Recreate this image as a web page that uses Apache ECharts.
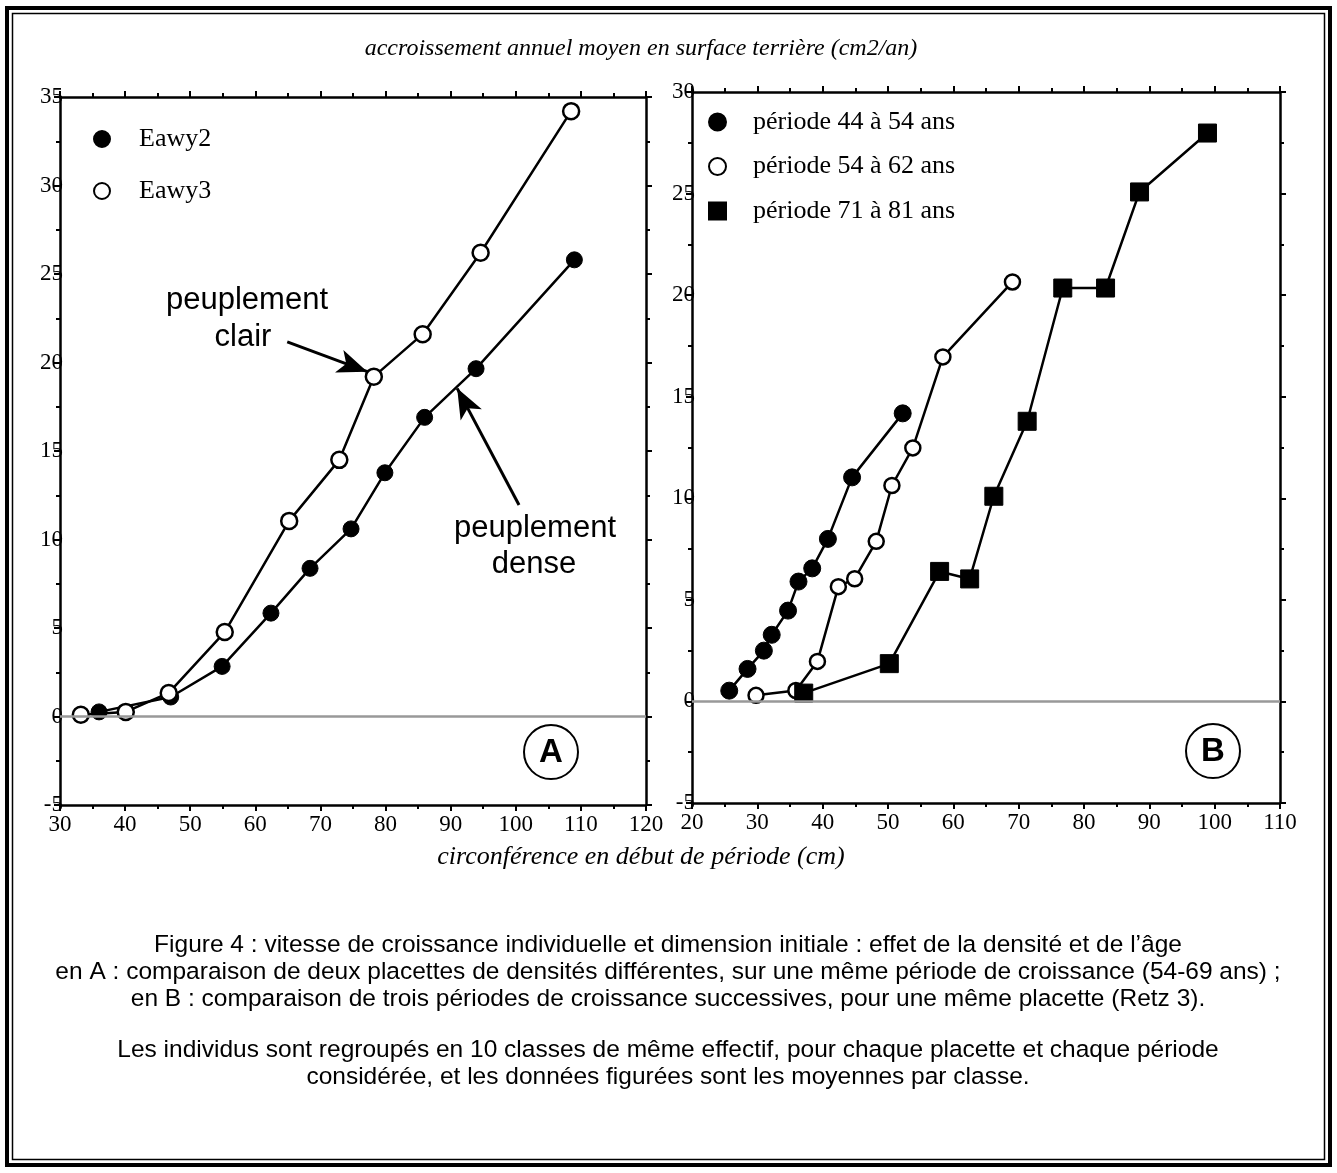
<!DOCTYPE html>
<html><head><meta charset="utf-8">
<script src="https://cdn.jsdelivr.net/npm/echarts@6/dist/echarts.min.js"></script>
<style>html,body{margin:0;padding:0;background:#fff}#c{width:1337px;height:1173px}</style>
</head><body><div id="c"></div>
<script>
// Panel A: circonférence (cm) vs accroissement (cm2/an)
const eawy2X = [36.0, 47.0, 54.9, 62.4, 68.4, 74.7, 79.9, 86.0, 93.9, 109.0];
const eawy2Y = [0.26, 1.1, 2.83, 5.84, 8.37, 10.6, 13.77, 16.9, 19.65, 25.8];
const eawy3X = [33.2, 40.1, 46.7, 55.3, 65.2, 72.9, 78.2, 85.7, 94.6, 108.5];
const eawy3Y = [0.1, 0.26, 1.33, 4.77, 11.05, 14.5, 19.2, 21.6, 26.2, 34.2];
// Panel B
const p4454X = [25.7, 28.5, 31.0, 32.2, 34.7, 36.3, 38.4, 40.8, 44.5, 52.25];
const p4454Y = [0.53, 1.6, 2.5, 3.28, 4.47, 5.9, 6.55, 8.0, 11.03, 14.18];
const p5462X = [29.8, 35.9, 39.2, 42.4, 44.9, 48.2, 50.6, 53.8, 58.4, 69.05];
const p5462Y = [0.3, 0.54, 1.97, 5.65, 6.04, 7.88, 10.63, 12.48, 16.96, 20.65];
const p7181X = [37.1, 50.2, 57.9, 62.5, 66.2, 71.3, 76.75, 83.3, 88.5, 98.9];
const p7181Y = [0.41, 1.86, 6.4, 6.03, 10.1, 13.79, 20.35, 20.35, 25.08, 27.98];
// axis ranges / ticks
const axA_x = {min: 30, max: 120, interval: 10};
const axA_y = {min: -5, max: 35, interval: 5};
const axB_x = {min: 20, max: 110, interval: 10};
const axB_y = {min: -5, max: 30, interval: 5};
// annotation arrows (data coords, panel A)
const arrowClair = [[64.9, 21.16], [77.2, 19.48]];
const arrowDense = [[100.5, 11.95], [91.0, 18.54]];
const seriesNames = ['Eawy2', 'Eawy3', 'période 44 à 54 ans', 'période 54 à 62 ans', 'période 71 à 81 ans'];
const captionLines = [
  'Figure 4 : vitesse de croissance individuelle et dimension initiale : effet de la densité et de l’âge',
  'en A : comparaison de deux placettes de densités différentes, sur une même période de croissance (54-69 ans) ;',
  'en B : comparaison de trois périodes de croissance successives, pour une même placette (Retz 3).',
  'Les individus sont regroupés en 10 classes de même effectif, pour chaque placette et chaque période',
  'considérée, et les données figurées sont les moyennes par classe.'
];

const zip = (xs, ys) => xs.map((x, i) => [x, ys[i]]);
const SERIF = 'Liberation Serif';

function xAxisDef(grid, r, pos, labels) {
  return {
    type: 'value', gridIndex: grid, position: pos, min: r.min, max: r.max, interval: r.interval,
    axisLine: {show: true, onZero: false, lineStyle: {color: '#000', width: 2.5}},
    axisTick: {show: true, inside: false, length: 6, lineStyle: {color: '#000', width: 2}},
    minorTick: {show: true, splitNumber: 2, length: 4, lineStyle: {color: '#000', width: 2}},
    splitLine: {show: false},
    axisLabel: {show: labels, color: '#000', fontFamily: SERIF, fontSize: 23, margin: 8}
  };
}
function yAxisDef(grid, r, pos, labels) {
  return {
    type: 'value', gridIndex: grid, position: pos, min: r.min, max: r.max, interval: r.interval,
    axisLine: {show: true, onZero: false, lineStyle: {color: '#000', width: 2.5}},
    axisTick: {show: true, inside: false, length: 6, lineStyle: {color: '#000', width: 2}},
    minorTick: {show: true, splitNumber: 2, length: 4, lineStyle: {color: '#000', width: 2}},
    splitLine: {show: false},
    axisLabel: {show: labels, color: '#000', fontFamily: SERIF, fontSize: 23, margin: -3}
  };
}
const zeroLine = {
  silent: true, symbol: ['none', 'none'], label: {show: false},
  lineStyle: {color: '#999', width: 2.5, type: 'solid'},
  data: [{yAxis: 0}]
};
function lineSeries(name, xi, yi, xs, ys, symbol, size, filled, extra) {
  return Object.assign({
    name, type: 'line', xAxisIndex: xi, yAxisIndex: yi, data: zip(xs, ys),
    symbol, symbolSize: size, showAllSymbol: true,
    lineStyle: {color: '#000', width: 2.5},
    itemStyle: filled ? {color: '#000', borderColor: '#000', borderWidth: 1} : {color: '#fff', borderColor: '#000', borderWidth: 2.5},
    emphasis: {disabled: true}, animation: false, z: 3
  }, extra || {});
}
function txt(x, y, text, font) {
  return {type: 'text', x, y, silent: true, style: {text, font, fill: '#000', textAlign: 'center', textVerticalAlign: 'middle'}};
}
const captionY = [945, 972, 999, 1050, 1077];
const capFont = '24.5px "Liberation Sans"';
const annFont = '31px "Liberation Sans"';

const chart = echarts.init(document.getElementById('c'), null, {renderer: 'canvas'});
chart.setOption({
  backgroundColor: '#fff',
  animation: false,
  grid: [
    {left: 60, top: 97, width: 586, height: 708},
    {left: 692, top: 92, width: 588, height: 711}
  ],
  xAxis: [
    xAxisDef(0, axA_x, 'bottom', true), xAxisDef(0, axA_x, 'top', false),
    xAxisDef(1, axB_x, 'bottom', true), xAxisDef(1, axB_x, 'top', false)
  ],
  yAxis: [
    yAxisDef(0, axA_y, 'left', true), yAxisDef(0, axA_y, 'right', false),
    yAxisDef(1, axB_y, 'left', true), yAxisDef(1, axB_y, 'right', false)
  ],
  legend: [
    {
      data: [{name: seriesNames[0], icon: 'circle'}, {name: seriesNames[1], icon: 'circle'}],
      orient: 'vertical', left: 93, top: 126, padding: 0, itemWidth: 16, itemHeight: 16, itemGap: 26,
      selectedMode: false,
      textStyle: {fontFamily: SERIF, fontSize: 26, color: '#000', lineHeight: 26, padding: [0, 0, 0, 24]}
    },
    {
      data: [{name: seriesNames[2], icon: 'circle'}, {name: seriesNames[3], icon: 'circle'}, {name: seriesNames[4], icon: 'rect'}],
      orient: 'vertical', left: 708, top: 109, padding: 0, itemWidth: 17, itemHeight: 17, itemGap: 18.5,
      selectedMode: false,
      textStyle: {fontFamily: SERIF, fontSize: 26, color: '#000', lineHeight: 26, padding: [0, 0, 0, 22]}
    }
  ],
  series: [
    lineSeries(seriesNames[0], 0, 0, eawy2X, eawy2Y, 'circle', 16, true, {markLine: zeroLine}),
    lineSeries(seriesNames[1], 0, 0, eawy3X, eawy3Y, 'circle', 16, false, {
      markLine: {
        silent: true, symbol: ['none', 'arrow'], symbolSize: [18, 30], label: {show: false},
        lineStyle: {color: '#000', width: 3, type: 'solid'},
        data: [
          [{coord: arrowClair[0]}, {coord: arrowClair[1]}],
          [{coord: arrowDense[0]}, {coord: arrowDense[1]}]
        ]
      }
    }),
    lineSeries(seriesNames[2], 2, 2, p4454X, p4454Y, 'circle', 17, true, {markLine: zeroLine}),
    lineSeries(seriesNames[3], 2, 2, p5462X, p5462Y, 'circle', 15, false),
    lineSeries(seriesNames[4], 2, 2, p7181X, p7181Y, 'rect', 18, true)
  ],
  graphic: [
    {type: 'rect', silent: true, shape: {x: 7, y: 8, width: 1323, height: 1157}, style: {fill: null, stroke: '#000', lineWidth: 4}},
    {type: 'rect', silent: true, shape: {x: 12.5, y: 13.5, width: 1312, height: 1146}, style: {fill: null, stroke: '#000', lineWidth: 1.5}},
    txt(641, 49, 'accroissement annuel moyen en surface terrière (cm2/an)', 'italic 24px "Liberation Serif"'),
    txt(641, 857, 'circonférence en début de période (cm)', 'italic 26px "Liberation Serif"'),
    txt(247, 300, 'peuplement', annFont),
    txt(243, 337, 'clair', annFont),
    txt(535, 528, 'peuplement', annFont),
    txt(534, 564, 'dense', annFont),
    {type: 'circle', silent: true, shape: {cx: 551, cy: 752, r: 27}, style: {fill: '#fff', stroke: '#000', lineWidth: 2}},
    txt(551, 753, 'A', 'bold 33px "Liberation Sans"'),
    {type: 'circle', silent: true, shape: {cx: 1213, cy: 751, r: 27}, style: {fill: '#fff', stroke: '#000', lineWidth: 2}},
    txt(1213, 752, 'B', 'bold 33px "Liberation Sans"')
  ].concat(captionLines.map((t, i) => txt(668, captionY[i], t, capFont)))
});
</script></body></html>
